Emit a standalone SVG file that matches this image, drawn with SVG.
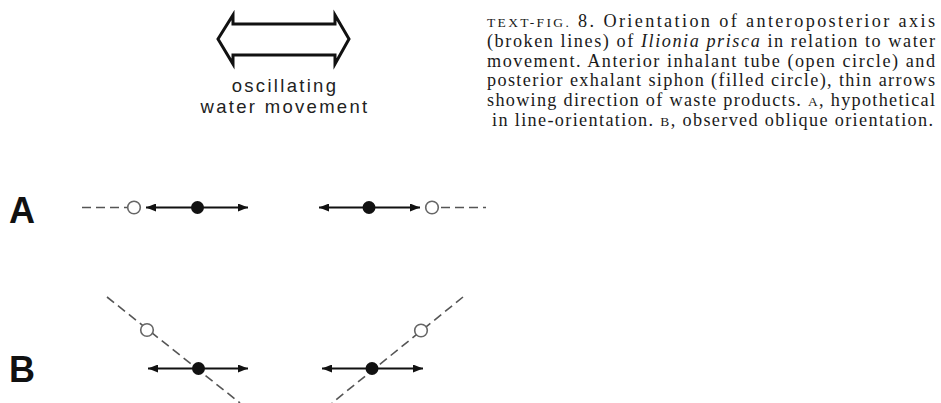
<svg xmlns="http://www.w3.org/2000/svg" width="941" height="403" viewBox="0 0 941 403">
<defs>
  <marker id="ah" viewBox="0 0 10 8" refX="10" refY="4" markerWidth="10" markerHeight="8" markerUnits="userSpaceOnUse" orient="auto-start-reverse">
    <path d="M0,0 L10,4 L0,8 Z" fill="#111"/>
  </marker>
</defs>
<style>
  .cap { font-family: "Liberation Serif", "Times New Roman", serif; font-size: 18.2px; fill: #1a1a1a; }
  .sc { font-size: 13.5px; }
  .lbl { font-family: "Liberation Sans", Arial, sans-serif; font-weight: bold; font-size: 36px; fill: #111; }
  .osc { font-family: "Liberation Sans", Arial, sans-serif; font-size: 18.5px; fill: #222; letter-spacing: 2.3px; }
  .dash { stroke: #555; stroke-width: 1.6; stroke-dasharray: 9 5; fill: none; }
  .arr { stroke: #111; stroke-width: 2.2; fill: none; marker-start: url(#ah); marker-end: url(#ah); }
  .open { fill: #fff; stroke: #666; stroke-width: 1.6; }
  .filled { fill: #111; }
</style>
<rect width="941" height="403" fill="#fff"/>

<g id="water-movement">
  <polygon points="218,39 233,15 233,24 335,24 335,15 349,39 335,64 335,55 233,55 233,64" fill="none" stroke="#111" stroke-width="3" stroke-linejoin="miter"/>
  <text class="osc" x="285" y="92" text-anchor="middle">oscillating</text>
  <text class="osc" x="285" y="113" text-anchor="middle">water movement</text>
</g>

<g id="caption">
  <text class="cap" x="487" y="27" textLength="448" lengthAdjust="spacing"><tspan class="sc">TEXT-FIG.</tspan> 8. Orientation of anteroposterior axis</text>
  <text class="cap" x="487" y="47" textLength="448" lengthAdjust="spacing">(broken lines) of <tspan font-style="italic">Ilionia prisca</tspan> in relation to water</text>
  <text class="cap" x="487" y="66.5" textLength="448" lengthAdjust="spacing">movement. Anterior inhalant tube (open circle) and</text>
  <text class="cap" x="487" y="86" textLength="448" lengthAdjust="spacing">posterior exhalant siphon (filled circle), thin arrows</text>
  <text class="cap" x="487" y="106" textLength="448" lengthAdjust="spacing">showing direction of waste products. <tspan class="sc">A</tspan>, hypothetical</text>
  <text class="cap" x="492" y="126" textLength="441" lengthAdjust="spacing">in line-orientation. <tspan class="sc">B</tspan>, observed oblique orientation.</text>
</g>

<g id="label-A"><text class="lbl" x="9" y="223">A</text></g>
<g id="label-B"><text class="lbl" x="9" y="382">B</text></g>

<g id="connectors">
  <line class="dash" x1="82" y1="207.5" x2="127" y2="207.5"/>
  <line class="dash" x1="441" y1="207.5" x2="486" y2="207.5"/>
  <line class="dash" x1="107" y1="297" x2="240" y2="403"/>
  <line class="dash" x1="463" y1="297" x2="332" y2="403"/>
  <line class="arr" x1="146" y1="207.5" x2="248" y2="207.5"/>
  <line class="arr" x1="319" y1="207.5" x2="420" y2="207.5"/>
  <line class="arr" x1="148" y1="368.5" x2="248" y2="368.5"/>
  <line class="arr" x1="322" y1="368.5" x2="423" y2="368.5"/>
</g>

<g id="A-left">
  <circle class="open" cx="134" cy="207.5" r="6.3"/>
  <circle class="filled" cx="197.5" cy="207.5" r="6.5"/>
</g>
<g id="A-right">
  <circle class="filled" cx="369" cy="207.5" r="6.5"/>
  <circle class="open" cx="432" cy="207.5" r="6.3"/>
</g>
<g id="B-left">
  <circle class="open" cx="147" cy="330" r="6.3"/>
  <circle class="filled" cx="198.5" cy="368.5" r="6.5"/>
</g>
<g id="B-right">
  <circle class="filled" cx="372" cy="368.5" r="6.5"/>
  <circle class="open" cx="421" cy="330.5" r="6.3"/>
</g>
</svg>
